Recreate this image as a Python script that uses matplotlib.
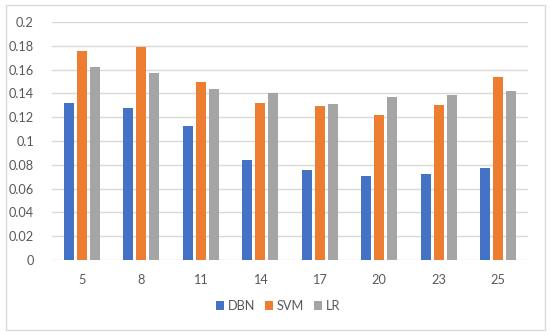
import matplotlib
matplotlib.use("Agg")
import matplotlib.pyplot as plt
import numpy as np
from matplotlib.patches import Rectangle

categories = ["5", "8", "11", "14", "17", "20", "23", "25"]
dbn = [0.132, 0.128, 0.113, 0.084, 0.076, 0.071, 0.072, 0.077]
svm = [0.176, 0.179, 0.150, 0.132, 0.129, 0.122, 0.130, 0.154]
lr = [0.162, 0.157, 0.144, 0.140, 0.131, 0.137, 0.139, 0.142]
series_names = ["DBN", "SVM", "LR"]
yticks = [0, 0.02, 0.04, 0.06, 0.08, 0.1, 0.12, 0.14, 0.16, 0.18, 0.2]
ytick_labels = ["0", "0.02", "0.04", "0.06", "0.08", "0.1", "0.12", "0.14", "0.16", "0.18", "0.2"]

plt.rcParams['font.family'] = ['Lato', 'DejaVu Sans']
text_color = "#595959"
colors = ["#4472C4", "#ED7D31", "#A5A5A5"]

fig = plt.figure(figsize=(5.5, 3.35), dpi=100)
ax = fig.add_axes([52/550, 1-260/335, (528-52)/550, (260-22)/335])

x = np.arange(len(categories))
w = 0.17
step = 0.22
for i, (vals, name) in enumerate(zip([dbn, svm, lr], series_names)):
    ax.bar(x + (i-1)*step, vals, width=w, color=colors[i], label=name, zorder=3)

ax.set_xlim(-0.5, len(categories)-0.5)
ax.set_ylim(0, 0.2)
ax.set_yticks(yticks)
ax.set_yticklabels(ytick_labels, fontsize=9.2, color=text_color)
ax.set_xticks(x)
ax.set_xticklabels(categories, fontsize=9.2, color=text_color)
ax.tick_params(axis='both', length=0)
ax.tick_params(axis='y', pad=13)
ax.tick_params(axis='x', pad=10)
ax.grid(axis='y', color="#D9D9D9", linewidth=1, zorder=0)
for s in ax.spines.values():
    s.set_visible(False)

leg = fig.legend(loc='center', bbox_to_anchor=(278/550, 1-306/335), ncol=3, frameon=False,
                 fontsize=9.2, handlelength=0.6, handleheight=0.6, handletextpad=0.3,
                 columnspacing=0.8)
for t in leg.get_texts():
    t.set_color(text_color)

fig.patches.append(Rectangle((6/550, 1-330/335), (545-6)/550, (330-5)/335,
                             transform=fig.transFigure, fill=False,
                             edgecolor="#D9D9D9", linewidth=1))

fig.savefig("out.png", dpi=100)
